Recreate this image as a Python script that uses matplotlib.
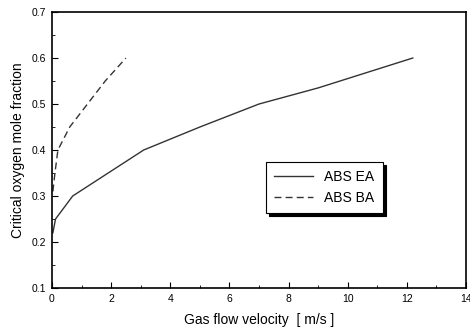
import matplotlib
matplotlib.use('Agg')
import matplotlib.pyplot as plt
from matplotlib.ticker import MultipleLocator

plt.rcParams['font.family'] = ['Liberation Sans', 'DejaVu Sans']

# ABS EA (solid)
ea_x = [0.03, 0.12, 0.7, 3.1, 5.0, 7.0, 9.0, 12.2]
ea_y = [0.22, 0.25, 0.30, 0.40, 0.45, 0.50, 0.535, 0.60]

# ABS BA (dashed)
ba_x = [0.03, 0.1, 0.2, 0.6, 1.2, 1.8, 2.5]
ba_y = [0.31, 0.35, 0.40, 0.45, 0.50, 0.55, 0.60]

fig = plt.figure(figsize=(4.7, 3.34), dpi=100)
ax = fig.add_axes([0.1106, 0.1377, 0.8809, 0.8263])

ax.plot(ea_x, ea_y, '-', color='#333333', lw=1.0, label='ABS EA')
ax.plot(ba_x, ba_y, '--', color='#333333', lw=1.0, dashes=(5, 3), label='ABS BA')

ax.set_xlim(0, 14)
ax.set_ylim(0.1, 0.7)
ax.xaxis.set_major_locator(MultipleLocator(2))
ax.xaxis.set_minor_locator(MultipleLocator(1))
ax.yaxis.set_major_locator(MultipleLocator(0.1))
ax.yaxis.set_minor_locator(MultipleLocator(0.05))
ax.yaxis.set_major_formatter(plt.FuncFormatter(lambda v, p: f'{v:.1f}'))
ax.tick_params(which='both', direction='in', top=False, right=False,
               labelsize=7.5, pad=4)
ax.tick_params(which='major', length=4)
ax.tick_params(which='minor', length=2)
for s in ax.spines.values():
    s.set_linewidth(1.2)

ax.set_xlabel('Gas flow velocity  [ m/s ]', fontsize=10, labelpad=7)
ax.set_ylabel('Critical oxygen mole fraction', fontsize=10, labelpad=5)

leg = ax.legend(loc='upper left', bbox_to_anchor=(0.517, 0.4565),
                borderaxespad=0, fontsize=10,
                fancybox=False, shadow={'color': 'black', 'alpha': 1},
                edgecolor='black', framealpha=1, handlelength=2.8,
                handletextpad=0.8, borderpad=0.6, labelspacing=0.45)
leg.get_frame().set_linewidth(0.8)

fig.savefig('out.png', dpi=100)
